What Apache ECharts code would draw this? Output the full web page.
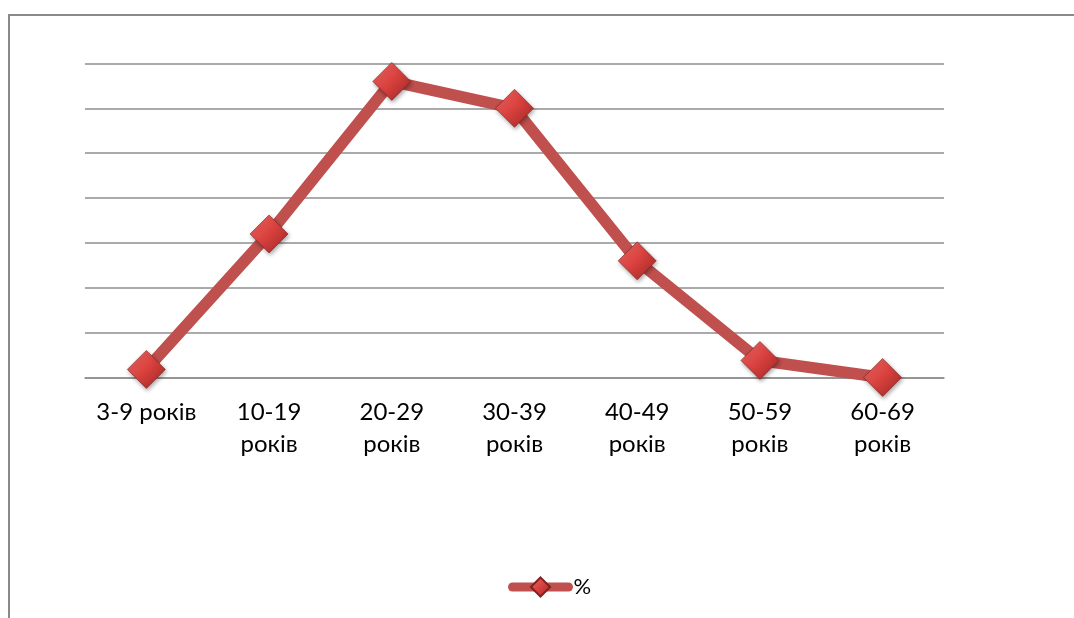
<!DOCTYPE html>
<html>
<head>
<meta charset="utf-8">
<script src="https://cdn.jsdelivr.net/npm/echarts@6/dist/echarts.min.js"></script>
<style>
  html, body { margin: 0; padding: 0; background: #fff; }
  #chart { width: 1074px; height: 618px; }
</style>
</head>
<body>
<div id="chart"></div>
<script>
// Age groups and share of respondents, %
const categories = ['3-9 років', '10-19\nроків', '20-29\nроків', '30-39\nроків', '40-49\nроків', '50-59\nроків', '60-69\nроків'];
const percent = [0.9, 16, 33, 30, 13, 1.9, 0];
const seriesName = '%';

const chart = echarts.init(document.getElementById('chart'));

const markerFill = {
  type: 'linear', x: 0, y: 0, x2: 1, y2: 1,
  colorStops: [
    { offset: 0, color: '#f06a66' },
    { offset: 0.5, color: '#d8403d' },
    { offset: 1, color: '#9a2724' }
  ]
};

chart.setOption({
  animation: false,
  backgroundColor: '#fff',
  textStyle: { fontFamily: 'Lato, "Open Sans", sans-serif' },
  graphic: [{
    type: 'rect',
    shape: { x: 9, y: 15, width: 1100, height: 700 },
    style: { fill: 'none', stroke: '#8a8a8a', lineWidth: 2 },
    silent: true
  }],
  grid: { left: 85, right: 130, top: 63.5, bottom: 240.5, containLabel: false },
  legend: {
    bottom: 15,
    left: 503,
    itemWidth: 56,
    itemHeight: 24,
    itemGap: 4,
    textStyle: { fontSize: 22, color: '#000', fontFamily: 'Lato, sans-serif' },
    lineStyle: { width: 9, cap: 'round' },
    data: [seriesName]
  },
  xAxis: {
    type: 'category',
    data: categories,
    boundaryGap: true,
    axisLine: { show: true, lineStyle: { color: '#8e8e8e', width: 1.5 } },
    axisTick: { show: false },
    axisLabel: {
      color: '#000',
      fontSize: 24,
      lineHeight: 32,
      margin: 19,
      interval: 0,
      fontFamily: 'Lato, sans-serif'
    }
  },
  yAxis: {
    type: 'value',
    min: 0,
    max: 35,
    interval: 5,
    axisLabel: { show: false },
    axisLine: { show: false },
    axisTick: { show: false },
    splitLine: { lineStyle: { color: '#8e8e8e', width: 1.5 } }
  },
  series: [{
    name: seriesName,
    type: 'line',
    data: percent,
    symbol: 'diamond',
    symbolSize: 38,
    lineStyle: { color: '#c0504d', width: 11.5 },
    itemStyle: {
      color: markerFill,
      borderColor: '#7e2220',
      borderWidth: 0.6,
      shadowColor: 'rgba(0,0,0,0.35)',
      shadowBlur: 4,
      shadowOffsetX: 1,
      shadowOffsetY: 2
    },
    emphasis: { disabled: true }
  }]
});
</script>
</body>
</html>
